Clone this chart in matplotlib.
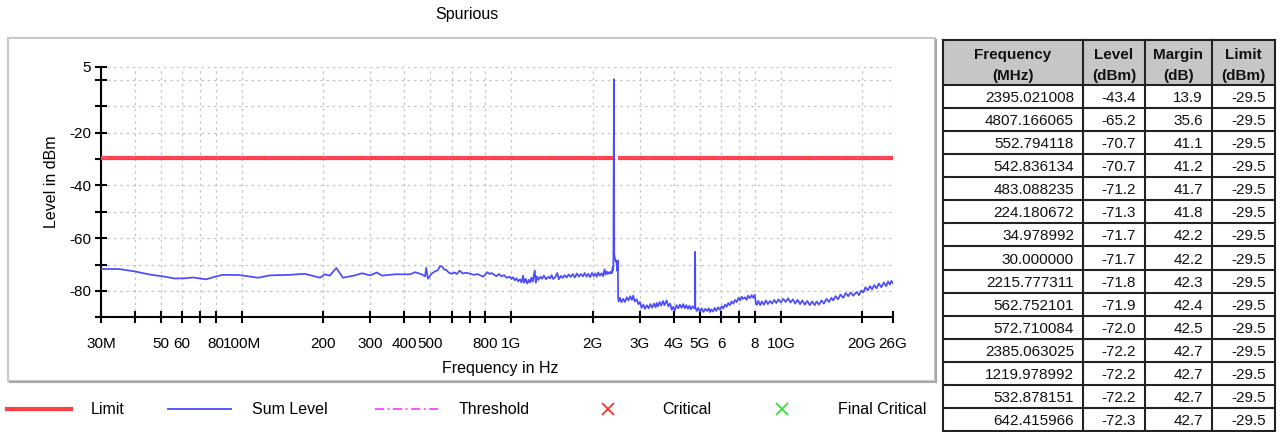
import matplotlib
matplotlib.use("Agg")
import matplotlib.pyplot as plt
from matplotlib import font_manager
from matplotlib.patches import Rectangle
from matplotlib.ticker import NullLocator, FixedLocator, FixedFormatter

# ---- data -------------------------------------------------------------
sum_freq_mhz = [
    30, 35, 40, 45.6, 51.8, 56.4, 61.5, 65.8, 73.6, 79.5, 85, 98, 115, 127,
    151, 171, 195, 203, 212, 224, 237, 263, 279, 299, 317, 331, 370, 421, 439,
    465, 478, 483, 490, 505, 520, 533, 543, 553, 563, 573, 585, 600, 615, 628,
    642, 660, 680, 702, 725, 750, 770, 785, 800, 815, 830, 845, 860,
    880, 900, 920, 940, 960, 988, 1000, 1015, 1030, 1045, 1060, 1076, 1090,
    1105, 1115, 1130, 1145, 1160, 1172, 1185, 1200, 1220, 1232, 1245, 1260,
    1280, 1300, 1320, 1345, 1370, 1391, 1410, 1430, 1455, 1480, 1500, 1525,
    1550, 1575, 1604, 1630, 1660, 1690, 1720, 1750, 1780, 1810, 1843, 1870,
    1900, 1930, 1960, 1990, 2020, 2050, 2073, 2100, 2130, 2160, 2190, 2215,
    2235, 2257, 2280, 2300, 2320, 2340, 2360, 2375, 2385, 2390, 2395, 2402,
    2408, 2420, 2440, 2458, 2470, 2483, 2490,
    2500, 2530, 2560, 2601, 2640, 2680, 2720, 2760, 2800, 2833, 2870, 2916,
    2960, 3000, 3040, 3086, 3130, 3180, 3230, 3280, 3330, 3380, 3430, 3459,
    3500, 3550, 3600, 3650, 3700, 3768, 3820, 3880, 3940, 3988, 4040, 4100,
    4160, 4220, 4280, 4344, 4400, 4460, 4520, 4580, 4640, 4700, 4760, 4800,
    4807, 4815, 4870, 4938, 5000, 5080, 5160, 5240, 5320, 5400, 5455, 5520,
    5600, 5680, 5760, 5850, 5945, 6030, 6120, 6210, 6293, 6380, 6470, 6560,
    6660, 6760, 6856, 6960, 7060, 7150, 7251, 7360, 7460, 7560, 7680, 7790,
    7899, 8000, 8080, 8130, 8250, 8380, 8500, 8650, 8800, 8950, 9111, 9280,
    9450, 9620, 9800, 10000, 10206, 10420, 10640, 10860, 11080, 11300, 11540,
    11778, 12020, 12270, 12530, 12800, 13070, 13350, 13574, 13860, 14150,
    14450, 14760, 15080, 15400, 15642, 15960, 16300, 16640, 17043, 17400,
    17780, 18160, 18560, 19104, 19500, 19900, 20213, 20600, 21000, 21400,
    21800, 22200, 22657, 23100, 23600, 24100, 24600, 25000, 25393, 25700, 26000,
]
sum_level_dbm = [
    -71.7, -71.7, -72.6, -73.8, -74.6, -75.3, -75.2, -74.9, -75.6, -74.6, -73.9,
    -74.0, -75.0, -74.1, -73.9, -73.5, -75.0, -73.7, -74.2, -71.3, -75.0, -74.1,
    -73.3, -74.1, -73.0, -74.2, -73.7, -73.7, -72.9, -73.7, -74.5, -71.2, -75.4,
    -73.5, -72.6, -72.2, -70.7, -70.7, -71.9, -72.0, -73.0, -73.5, -73.0, -73.6,
    -72.3, -73.4, -73.1, -73.5, -73.9, -73.6, -74.2, -74.6, -73.8, -72.9, -73.6,
    -73.2, -73.8,
    -74.4, -73.6, -74.5, -74.0, -75.0, -74.6, -75.5, -74.8, -76.0, -75.2, -76.4,
    -75.6, -76.8, -74.2, -76.9, -75.4, -77.2, -75.8, -76.8, -75.0, -76.5, -72.2,
    -76.9, -74.5, -75.8, -74.6, -75.4, -74.2, -75.6, -74.6, -75.3, -74.0, -75.5,
    -74.8, -73.2, -75.6, -74.3, -75.1, -74.0, -74.9, -73.8, -74.7, -73.6, -74.9,
    -73.4, -74.6, -73.6, -74.5, -73.2, -74.6, -73.5, -74.8, -73.2, -74.4, -73.4,
    -74.6, -73.0, -74.2, -73.3, -74.4, -71.8, -73.8, -72.6, -73.6, -72.9, -73.4,
    -72.7, -73.3, -71.0, -72.2, -69.5, -43.4, 0.3,
    -66.0, -67.5, -69.0, -68.5, -72.4, -68.5, -82.5,
    -84.0, -82.6, -84.3, -83.0, -84.2, -82.4, -83.6, -82.0, -83.4, -81.8, -84.0,
    -83.2, -85.0, -84.2, -86.4, -85.2, -86.8, -85.4, -86.6, -85.0, -86.4, -84.8,
    -86.2, -84.6, -85.8, -84.2, -85.6, -83.8, -85.4, -83.6, -85.8, -84.8, -87.2,
    -86.0, -87.4, -85.4, -86.6, -85.2, -86.4, -85.0, -86.6, -85.4, -86.8, -85.6,
    -87.0, -85.8, -86.6, -86.0, -65.2, -86.2, -87.6, -86.4, -87.8, -86.6, -88.0,
    -86.8, -87.6, -86.6, -88.0, -87.0, -87.8, -86.4, -87.6, -86.2, -87.2, -85.8,
    -86.6, -85.2, -86.0, -84.6, -85.4, -84.0, -84.8, -83.4, -84.2, -82.6, -83.6,
    -82.2, -83.0, -82.4, -83.4, -81.8, -82.8, -81.6, -82.6, -81.4, -84.8, -85.3,
    -83.8, -85.4, -84.0, -85.2, -83.6, -85.0, -83.8, -84.8, -83.4, -84.6, -83.2,
    -84.4, -83.0, -84.2, -82.8, -84.4, -83.2, -84.8, -83.4, -85.0, -83.6, -85.2,
    -83.8, -85.4, -84.0, -85.4, -84.0, -85.2, -83.6, -84.8, -83.0, -84.2, -82.6,
    -83.6, -82.0, -83.2, -81.4, -82.6, -80.8, -82.0, -80.6, -81.8, -80.4, -81.6,
    -79.8, -80.6, -78.6, -79.8, -78.2, -79.4, -77.8, -79.0, -77.2, -78.6, -76.8,
    -78.2, -76.4, -77.6, -76.2, -77.0,
]

# limit / threshold are defined on two bands (2400-2483.5 MHz excluded)
limit_bands_mhz = [(30, 2400), (2483.5, 26000)]
limit_dbm = -29.5
threshold_dbm = -29.5

x_tick_mhz = [30, 40, 50, 60, 70, 80, 100, 200, 300, 400, 500, 600, 700, 800,
              1000, 2000, 3000, 4000, 5000, 6000, 7000, 8000, 10000, 20000, 26000]
x_tick_labels = ["30M", "", "50", "60", "", "80", "100M", "200", "300", "400",
                 "500", "", "", "800", "1G", "2G", "3G", "4G", "5G", "6", "",
                 "8", "10G", "20G", "26G"]
y_ticks = [5, 0, -10, -20, -30, -40, -50, -60, -70, -80, -90]
y_tick_labels = ["5", "", "", "-20", "", "-40", "", "-60", "", "-80", ""]

table_freq = [2395.021008, 4807.166065, 552.794118, 542.836134, 483.088235,
              224.180672, 34.978992, 30.000000, 2215.777311, 562.752101,
              572.710084, 2385.063025, 1219.978992, 532.878151, 642.415966]
table_level = [-43.4, -65.2, -70.7, -70.7, -71.2, -71.3, -71.7, -71.7, -71.8,
               -71.9, -72.0, -72.2, -72.2, -72.2, -72.3]
table_margin = [13.9, 35.6, 41.1, 41.2, 41.7, 41.8, 42.2, 42.2, 42.3, 42.4,
                42.5, 42.7, 42.7, 42.7, 42.7]
table_limit = [-29.5] * 15
table_header = ["Frequency\n(MHz)", "Level\n(dBm)", "Margin\n(dB)", "Limit\n(dBm)"]

# ---- fonts --------------------------------------------------------------
plt.rcParams["font.family"] = ["Liberation Sans", "DejaVu Sans"]


def pick_font(candidates):
    for name in candidates:
        try:
            font_manager.findfont(name, fallback_to_default=False)
            return name
        except Exception:
            continue
    return "Liberation Sans"


narrow = pick_font(["Liberation Sans Narrow", "DejaVu Sans Condensed", "Liberation Sans"])
narrow_size = 13 if narrow != "Liberation Sans" else 11

W, H = 1284, 432
RED = "#ff4040"
BLUE = "#4b4bff"
MAGENTA = "#ff44ff"

fig = plt.figure(figsize=(W / 100, H / 100), dpi=100)

# ---- chart ------------------------------------------------------------
ax = fig.add_axes([101 / W, 1 - 317.3 / H, (892.7 - 101) / W, (317.3 - 66.7) / H])
hz = [f * 1e6 for f in sum_freq_mhz]

for lo, hi in limit_bands_mhz:
    ax.plot([lo * 1e6, hi * 1e6], [limit_dbm, limit_dbm], color=RED, lw=3, zorder=3,
            solid_capstyle="butt")
    ax.plot([lo * 1e6, hi * 1e6], [threshold_dbm + 0.4, threshold_dbm + 0.4],
            color=MAGENTA, lw=0.9, ls=(0, (6, 2, 1, 2)), zorder=4, alpha=0.85)
ax.plot(hz, sum_level_dbm, color=BLUE, lw=1.25, zorder=5)

ax.set_xscale("log")
ax.set_xlim(30e6, 26e9)
ax.set_ylim(-90, 5)
ax.xaxis.set_major_locator(FixedLocator([f * 1e6 for f in x_tick_mhz]))
ax.xaxis.set_major_formatter(FixedFormatter(x_tick_labels))
ax.xaxis.set_minor_locator(NullLocator())
ax.set_yticks(y_ticks)
ax.set_yticklabels(y_tick_labels)

ax.grid(True, color="#c4c4c4", ls=(0, (2, 3)), lw=0.9)
for s in ("top", "right"):
    ax.spines[s].set_visible(False)
for s in ("left", "bottom"):
    ax.spines[s].set_linewidth(1.5)
ax.tick_params(axis="both", direction="inout", length=8, width=1.5, labelsize=11)
ax.tick_params(axis="x", pad=10)
ax.tick_params(axis="y", pad=3)

fig.text(467 / W, 1 - 15 / H, "Spurious", ha="center", va="center", fontsize=11.5)
fig.text(52 / W, 1 - 182 / H, "Level in dBm", rotation=90, ha="center", va="center",
         fontsize=11.5)
fig.text(500 / W, 1 - 369 / H, "Frequency in Hz", ha="center", va="center", fontsize=11.5)

# ---- overlay in pixel coordinates (panel frame, legend, table) --------
ov = fig.add_axes([0, 0, 1, 1], zorder=-1)
ov.set_xlim(0, W)
ov.set_ylim(H, 0)
ov.axis("off")

ov.add_patch(Rectangle((8, 38), 927, 343, fill=False, ec="#c8c8c8", lw=1.5))
ov.plot([936, 936], [40, 382], color="#a8a8a8", lw=1.5)
ov.plot([10, 936], [382, 382], color="#a8a8a8", lw=1.5)

top = fig.add_axes([0, 0, 1, 1], zorder=10)
top.set_xlim(0, W)
top.set_ylim(H, 0)
top.axis("off")

ly = 409
top.plot([7, 71], [ly, ly], color=RED, lw=3)
top.text(91, ly, "Limit", va="center", fontsize=11.5)
top.plot([168, 231], [ly, ly], color=BLUE, lw=1.3)
top.text(252, ly, "Sum Level", va="center", fontsize=11.5)
top.plot([375, 438], [ly, ly], color=MAGENTA, lw=1.3, ls=(0, (5, 2, 1, 2)))
top.text(459, ly, "Threshold", va="center", fontsize=11.5)
top.plot([608], [ly], marker="x", color="#ff3030", ms=8, mew=1.3)
top.text(662, ly, "Critical", va="center", fontsize=11.5)
top.plot([782], [ly], marker="x", color="#33e033", ms=8, mew=1.3)
top.text(838, ly, "Final Critical", va="center", fontsize=11.5)

# table
col_edges = [943, 1083, 1145, 1212, 1275]
head_top, head_bot = 40, 85
row_h = (431 - head_bot) / len(table_freq)
top.add_patch(Rectangle((col_edges[0], head_top), col_edges[-1] - col_edges[0],
                        head_bot - head_top, fc="#c6c6c6", ec="none"))
for i, txt in enumerate(table_header):
    cx = (col_edges[i] + col_edges[i + 1]) / 2
    l1, l2 = txt.split("\n")
    top.text(cx, 55, l1, ha="center", va="center", fontsize=narrow_size,
             fontweight="bold", family=narrow, color="#111111")
    top.text(cx, 76, l2, ha="center", va="center", fontsize=narrow_size,
             fontweight="bold", family=narrow, color="#111111")

cols = [
    [f"{v:.6f}" for v in table_freq],
    [f"{v:.1f}" for v in table_level],
    [f"{v:.1f}" for v in table_margin],
    [f"{v:.1f}" for v in table_limit],
]
for r in range(len(table_freq)):
    cy = head_bot + (r + 0.5) * row_h + 1.5
    for c in range(4):
        top.text(col_edges[c + 1] - 9, cy, cols[c][r], ha="right", va="center",
                 fontsize=narrow_size, family=narrow, color="#111111")

# grid lines of table
bottom = head_bot + row_h * len(table_freq)
for x in col_edges:
    top.plot([x, x], [head_top, bottom], color="#222222", lw=1.5)
top.plot([col_edges[0], col_edges[-1]], [head_top, head_top], color="#222222", lw=1.5)
for r in range(len(table_freq) + 1):
    y = head_bot + r * row_h
    top.plot([col_edges[0], col_edges[-1]], [y, y], color="#222222", lw=1.5)

fig.savefig("out.png", dpi=100)
